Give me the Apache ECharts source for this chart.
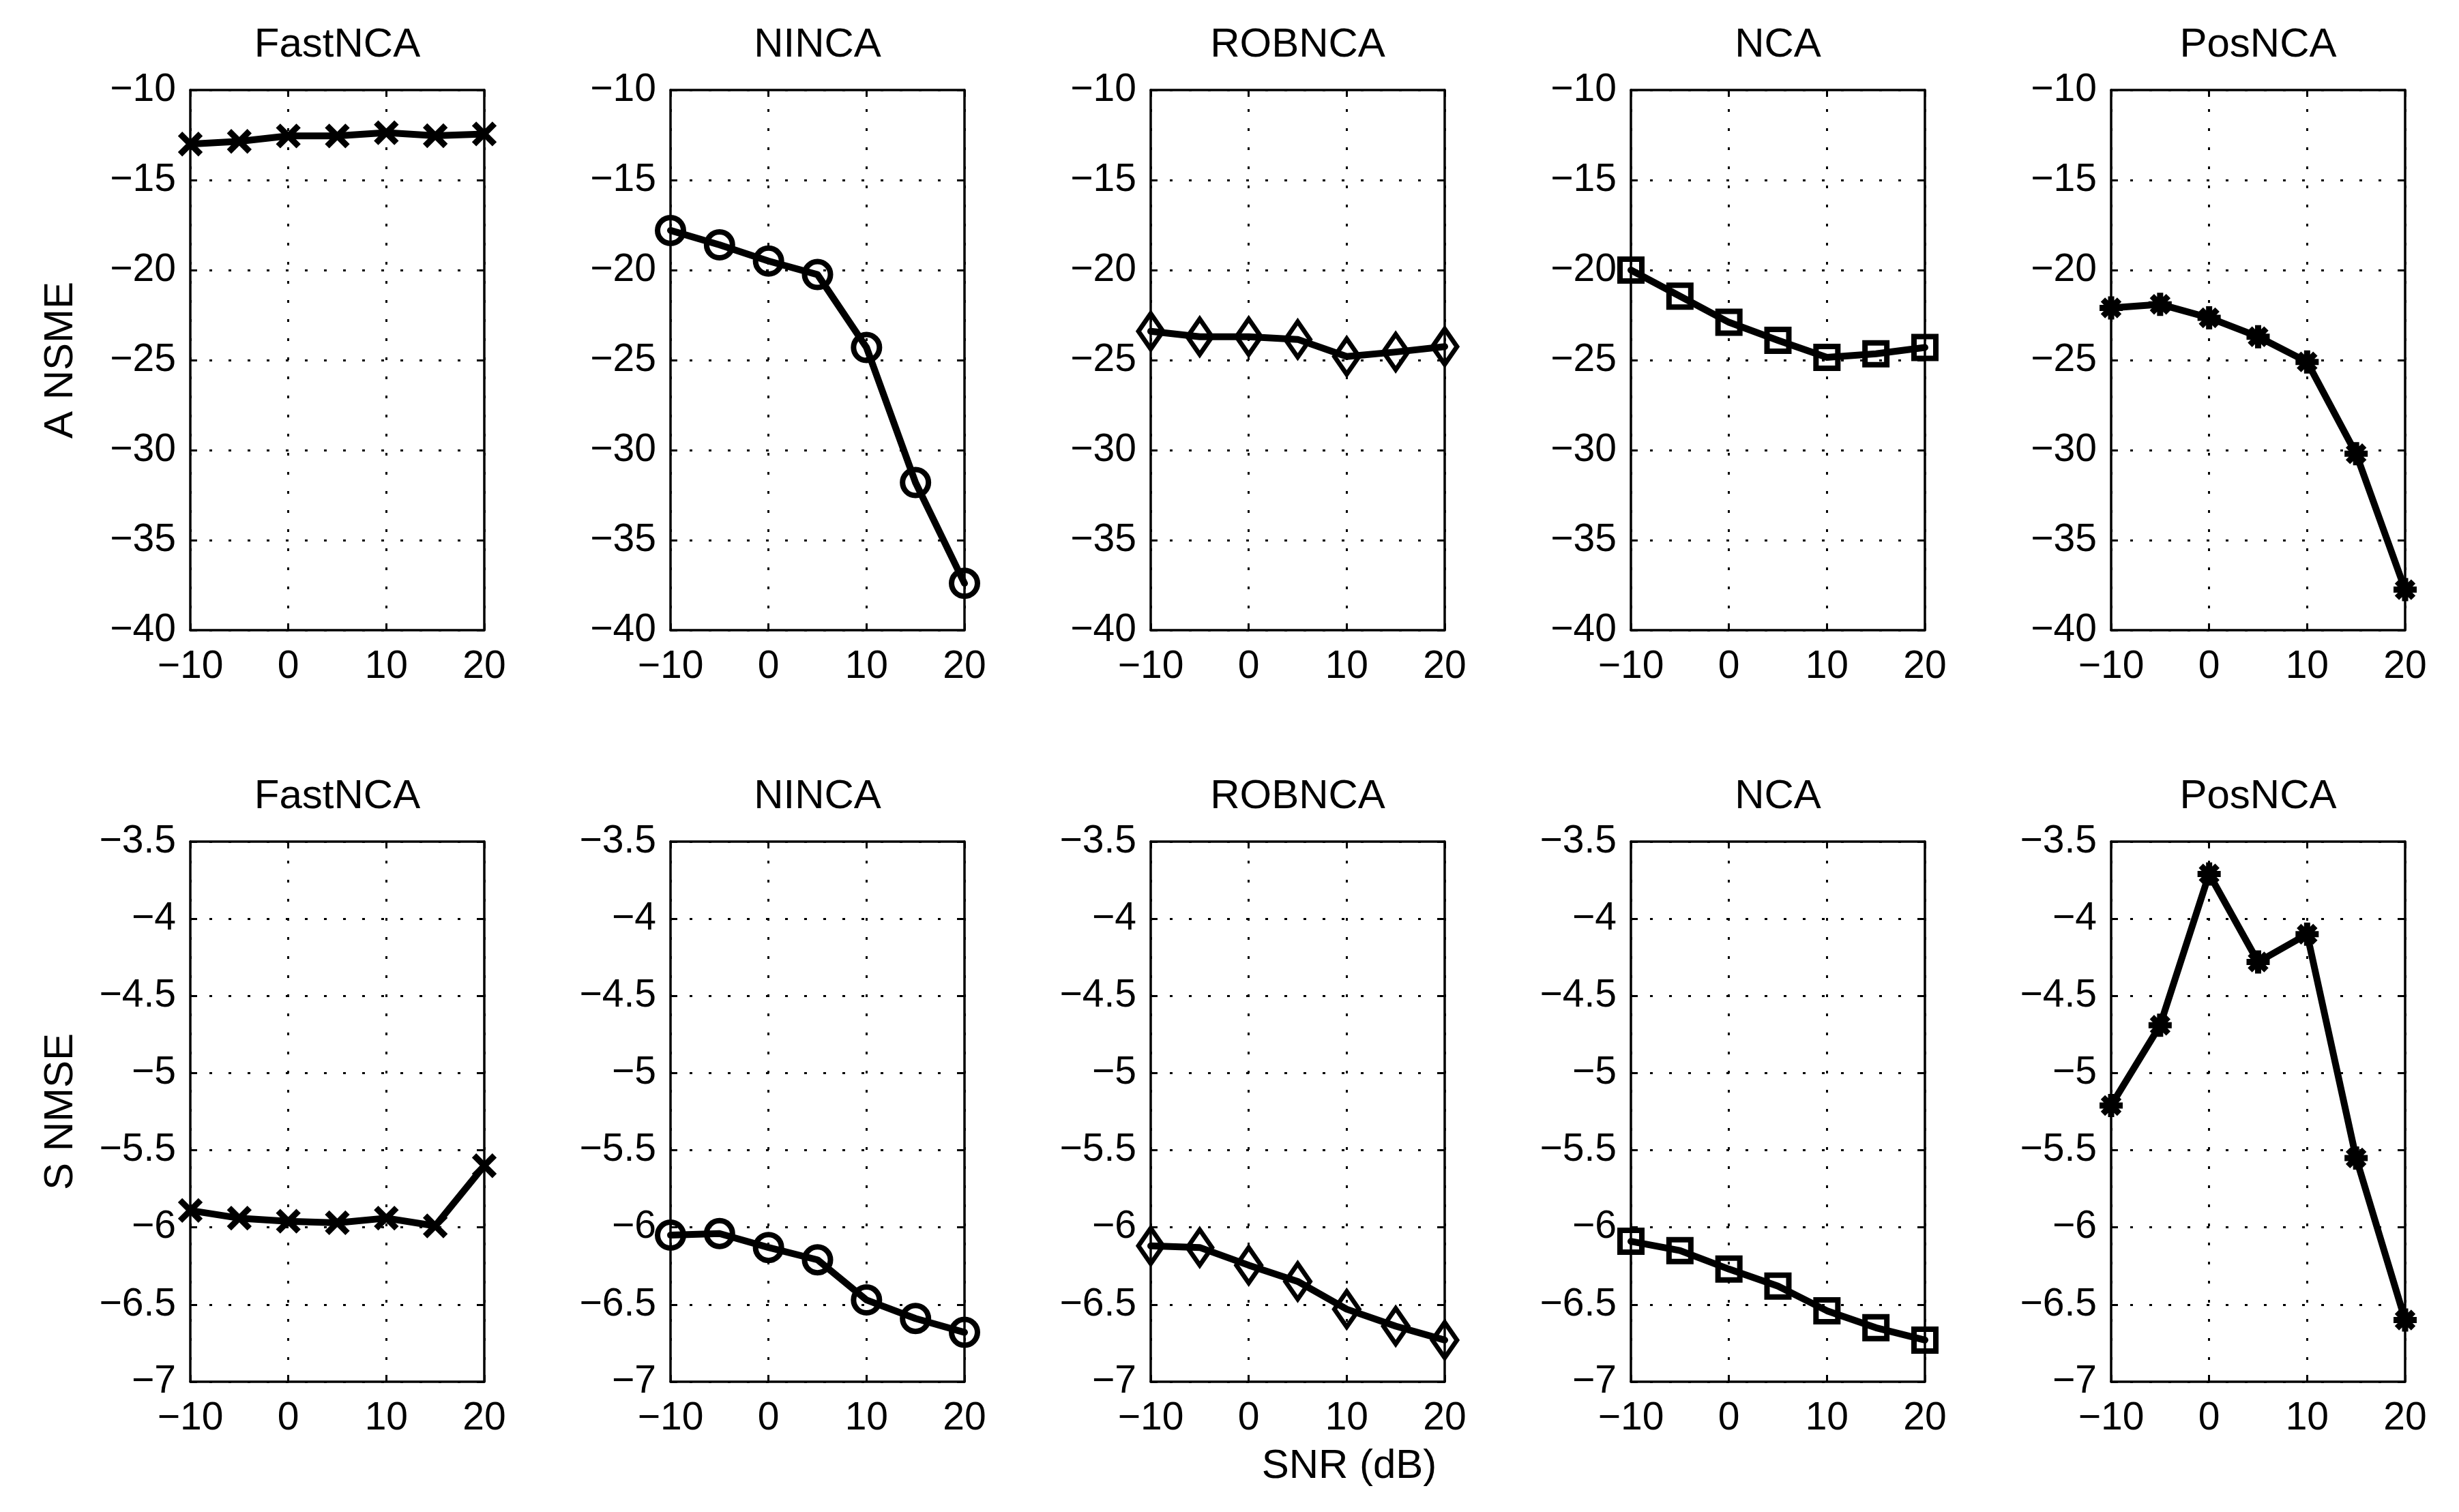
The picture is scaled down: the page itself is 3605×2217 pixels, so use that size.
<!DOCTYPE html>
<html>
<head>
<meta charset="utf-8">
<script src="https://cdn.jsdelivr.net/npm/echarts@6/dist/echarts.min.js"></script>
<style>
html,body{margin:0;padding:0;background:#fff;}
#c{width:3605px;height:2217px;}
</style>
</head>
<body>
<div id="c"></div>
<script>
// ---- data ----
const snr = [-10, -5, 0, 5, 10, 15, 20];
const methods = ['FastNCA', 'NINCA', 'ROBNCA', 'NCA', 'PosNCA'];
const aFastNCA = [-13.0, -12.85, -12.55, -12.55, -12.37, -12.54, -12.44];
const aNINCA   = [-17.8, -18.6, -19.5, -20.25, -24.3, -31.8, -37.4];
const aROBNCA  = [-23.4, -23.7, -23.7, -23.85, -24.8, -24.55, -24.25];
const aNCA     = [-20.0, -21.45, -22.9, -23.9, -24.85, -24.65, -24.3];
const aPosNCA  = [-22.1, -21.9, -22.65, -23.7, -25.1, -30.2, -37.75];
const sFastNCA = [-5.89, -5.94, -5.96, -5.97, -5.94, -5.99, -5.60];
const sNINCA   = [-6.05, -6.04, -6.13, -6.21, -6.47, -6.59, -6.68];
const sROBNCA  = [-6.12, -6.13, -6.245, -6.35, -6.53, -6.64, -6.73];
const sNCA     = [-6.09, -6.15, -6.27, -6.38, -6.54, -6.65, -6.73];
const sPosNCA  = [-5.21, -4.69, -3.71, -4.28, -4.10, -5.55, -6.60];
const rowNames = ['A NSME', 'S NMSE'];
const rowMin = [-40, -7];
const rowMax = [-10, -3.5];
const rowStep = [5, 0.5];
const xMin = -10, xMax = 20, xStep = 10;
const xLabel = 'SNR (dB)';
const rowData = [
  [aFastNCA, aNINCA, aROBNCA, aNCA, aPosNCA],
  [sFastNCA, sNINCA, sROBNCA, sNCA, sPosNCA]
];

// ---- layout / style ----
const colLeft = [279, 983, 1687, 2391, 3095];
const rowTop = [132, 1234];
const W = 431, H = 792;
const FONT = "'Liberation Sans', Arial, Helvetica, sans-serif";
const markerDefs = [
  {symbol: 'path://M0,0L10,10M10,0L0,10', size: 30, bw: 9},
  {symbol: 'circle', size: 38, bw: 8},
  {symbol: 'diamond', size: [36, 52], bw: 7},
  {symbol: 'rect', size: 32, bw: 8},
  {symbol: 'path://M5,0L5,10M0,5L10,5M1.46,1.46L8.54,8.54M8.54,1.46L1.46,8.54', size: 34, bw: 9}
];

function fmt(v) {
  const s = String(+(+v).toFixed(2));
  return s.replace('-', '\u2212');
}

const grids = [], xAxes = [], yAxes = [], series = [], titles = [];
const dotted = {color: '#000', width: 3, type: [4, 24]};
let g = 0;
for (let r = 0; r < 2; r++) {
  for (let c = 0; c < 5; c++) {
    grids.push({left: colLeft[c], top: rowTop[r], width: W, height: H, containLabel: false});
    const baseX = {
      type: 'value', gridIndex: g, min: xMin, max: xMax, interval: xStep,
      axisLine: {show: true, onZero: false, lineStyle: {color: '#000', width: 3.5}},
      axisTick: {show: true, inside: true, length: 10, lineStyle: {color: '#000', width: 3}}
    };
    xAxes.push(Object.assign({}, baseX, {
      position: 'bottom',
      axisLabel: {show: true, margin: 26, color: '#000', fontSize: 57, fontFamily: FONT, formatter: fmt},
      splitLine: {show: true, lineStyle: dotted}
    }));
    xAxes.push(Object.assign({}, baseX, {
      position: 'top', axisLabel: {show: false}, splitLine: {show: false}
    }));
    const baseY = {
      type: 'value', gridIndex: g, min: rowMin[r], max: rowMax[r], interval: rowStep[r],
      axisLine: {show: true, onZero: false, lineStyle: {color: '#000', width: 3.5}},
      axisTick: {show: true, inside: true, length: 10, lineStyle: {color: '#000', width: 3}}
    };
    const leftY = Object.assign({}, baseY, {
      position: 'left',
      axisLabel: {show: true, margin: 21, color: '#000', fontSize: 57, fontFamily: FONT, formatter: fmt},
      splitLine: {show: true, lineStyle: dotted}
    });
    if (c === 0) {
      leftY.name = rowNames[r];
      leftY.nameLocation = 'middle';
      leftY.nameGap = 160;
      leftY.nameTextStyle = {color: '#000', fontSize: 60, fontFamily: FONT};
    }
    yAxes.push(leftY);
    yAxes.push(Object.assign({}, baseY, {
      position: 'right', axisLabel: {show: false}, splitLine: {show: false}
    }));
    titles.push({
      text: methods[c], left: colLeft[c] + W / 2, top: rowTop[r] - 96, textAlign: 'center', padding: 0,
      textStyle: {color: '#000', fontSize: 60, fontWeight: 'normal', fontFamily: FONT}
    });
    const m = markerDefs[c];
    const vals = rowData[r][c];
    series.push({
      type: 'line', name: methods[c] + ' ' + rowNames[r],
      xAxisIndex: 2 * g, yAxisIndex: 2 * g,
      data: snr.map((x, i) => [x, vals[i]]),
      symbol: m.symbol, symbolSize: m.size, showAllSymbol: true,
      clip: false,
      lineStyle: {color: '#000', width: 10, cap: 'round', join: 'round'},
      itemStyle: {color: 'rgba(0,0,0,0)', borderColor: '#000', borderWidth: m.bw},
      emphasis: {disabled: true},
      z: 5
    });
    g++;
  }
}
titles.push({
  text: xLabel, left: 1978, top: 2120, textAlign: 'center', padding: 0,
  textStyle: {color: '#000', fontSize: 60, fontWeight: 'normal', fontFamily: FONT}
});

const chart = echarts.init(document.getElementById('c'), null, {renderer: 'canvas'});
chart.setOption({
  backgroundColor: '#fff',
  animation: false,
  title: titles,
  grid: grids,
  xAxis: xAxes,
  yAxis: yAxes,
  series: series
});
</script>
</body>
</html>
